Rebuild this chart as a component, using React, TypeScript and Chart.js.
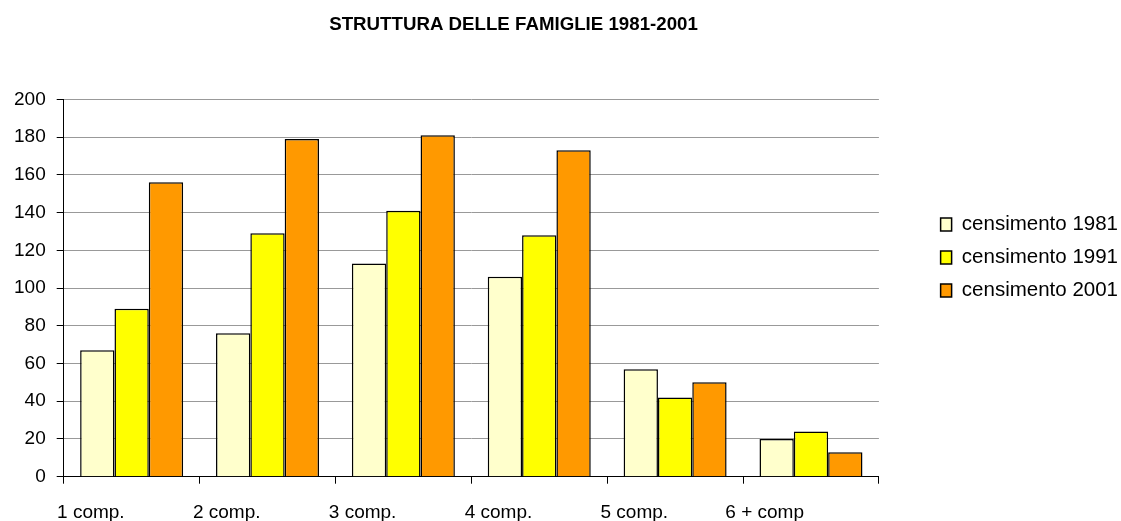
import React, { useEffect, useRef } from 'react';
import { Chart, registerables } from 'chart.js';

Chart.register(...registerables);

// ---- data ----
const chartTitle = 'STRUTTURA DELLE FAMIGLIE 1981-2001';
const categories = ['1 comp.', '2 comp.', '3 comp.', '4 comp.', '5 comp.', '6 + comp'];
const seriesNames = ['censimento 1981', 'censimento 1991', 'censimento 2001'];
const values1981 = [67, 76, 113, 106, 57, 20];
const values1991 = [89, 129, 141, 128, 42, 24];
const values2001 = [156, 179, 181, 173, 50, 13];
const yMin = 0;
const yMax = 200;
const yStep = 20;

// ---- style ----
const seriesColors = ['#FFFFCC', '#FFFF00', '#FF9900'];
const FONT = '"Liberation Sans", Arial, Helvetica, sans-serif';
const LEGEND_SHIFT_Y = -3;
const LEGEND_SHIFT_X = 11;
const TITLE_SHIFT_X = -52;

const placementPlugin = {
  id: 'placement',
  afterLayout(chart: any) {
    const lg = chart.legend;
    if (lg) {
      lg.top += LEGEND_SHIFT_Y;
      lg.bottom += LEGEND_SHIFT_Y;
      lg.left += LEGEND_SHIFT_X;
      lg.right += LEGEND_SHIFT_X;
    }
    const t = chart.titleBlock;
    if (t) {
      t.left += TITLE_SHIFT_X;
      t.right += TITLE_SHIFT_X;
    }
  },
};

export default function App() {
  const canvasRef = useRef<HTMLCanvasElement | null>(null);

  useEffect(() => {
    document.body.style.margin = '0';
    document.body.style.overflow = 'hidden';
    const canvas = canvasRef.current;
    if (!canvas) return;
    Chart.defaults.font.family = FONT;
    Chart.defaults.color = '#000';

    const seriesValues = [values1981, values1991, values2001];
    const chart = new Chart(canvas, {
      type: 'bar',
      data: {
        labels: categories,
        datasets: seriesNames.map((name, i) => ({
          label: name,
          data: seriesValues[i],
          backgroundColor: seriesColors[i],
          borderColor: '#000',
          borderWidth: 1.5,
          barPercentage: 1,
          categoryPercentage: 0.758,
          yAxisID: 'y',
        })),
      },
      options: {
        responsive: false,
        animation: false,
        events: [],
        layout: { padding: { left: 14, right: 4, top: 0, bottom: 0 } },
        plugins: {
          title: {
            display: true,
            text: chartTitle,
            color: '#000',
            font: { size: 18.7, weight: 'bold', lineHeight: 1.2 },
            padding: { top: 13.8, bottom: 63.1 },
          },
          legend: {
            position: 'right',
            align: 'center',
            maxWidth: 400,
            labels: {
              color: '#000',
              font: { size: 20.5, lineHeight: 1 },
              boxWidth: 11,
              boxHeight: 13,
              padding: 12.5,
            },
          },
          tooltip: { enabled: false },
        },
        scales: {
          x: {
            type: 'category',
            offset: true,
            grid: {
              display: true,
              drawOnChartArea: false,
              drawTicks: true,
              tickLength: 7,
              tickColor: '#000',
              offset: true,
            },
            border: { display: true, color: '#000', width: 1 },
            ticks: {
              color: '#000',
              font: { size: 19, lineHeight: 1 },
              padding: 19.5,
              align: 'end',
              labelOffset: -7,
              autoSkip: false,
              maxRotation: 0,
              minRotation: 0,
            },
            afterFit: (s: any) => {
              s.height = 44.3;
              s.paddingLeft = 0;
              s.paddingRight = 0;
            },
          },
          y: {
            min: yMin,
            max: yMax,
            ticks: {
              stepSize: yStep,
              color: '#000',
              font: { size: 19, lineHeight: 1 },
              padding: 11,
            },
            grid: { color: '#999999', tickColor: '#000', tickLength: 7, lineWidth: 1 },
            border: { display: true, color: '#000', width: 1 },
            afterFit: (s: any) => {
              s.width = s.width - s.options.ticks.padding;
            },
          },
          yR: {
            type: 'linear',
            position: 'right',
            display: true,
            grid: { display: false },
            border: { display: false },
            ticks: { display: false },
            afterFit: (s: any) => {
              s.width = 38.2;
            },
          },
        },
      } as any,
      plugins: [placementPlugin],
    });

    return () => {
      chart.destroy();
    };
  }, []);

  return (
    <div style={{ width: 1121, height: 521 }}>
      <canvas ref={canvasRef} width={1121} height={521} style={{ display: 'block' }} />
    </div>
  );
}
